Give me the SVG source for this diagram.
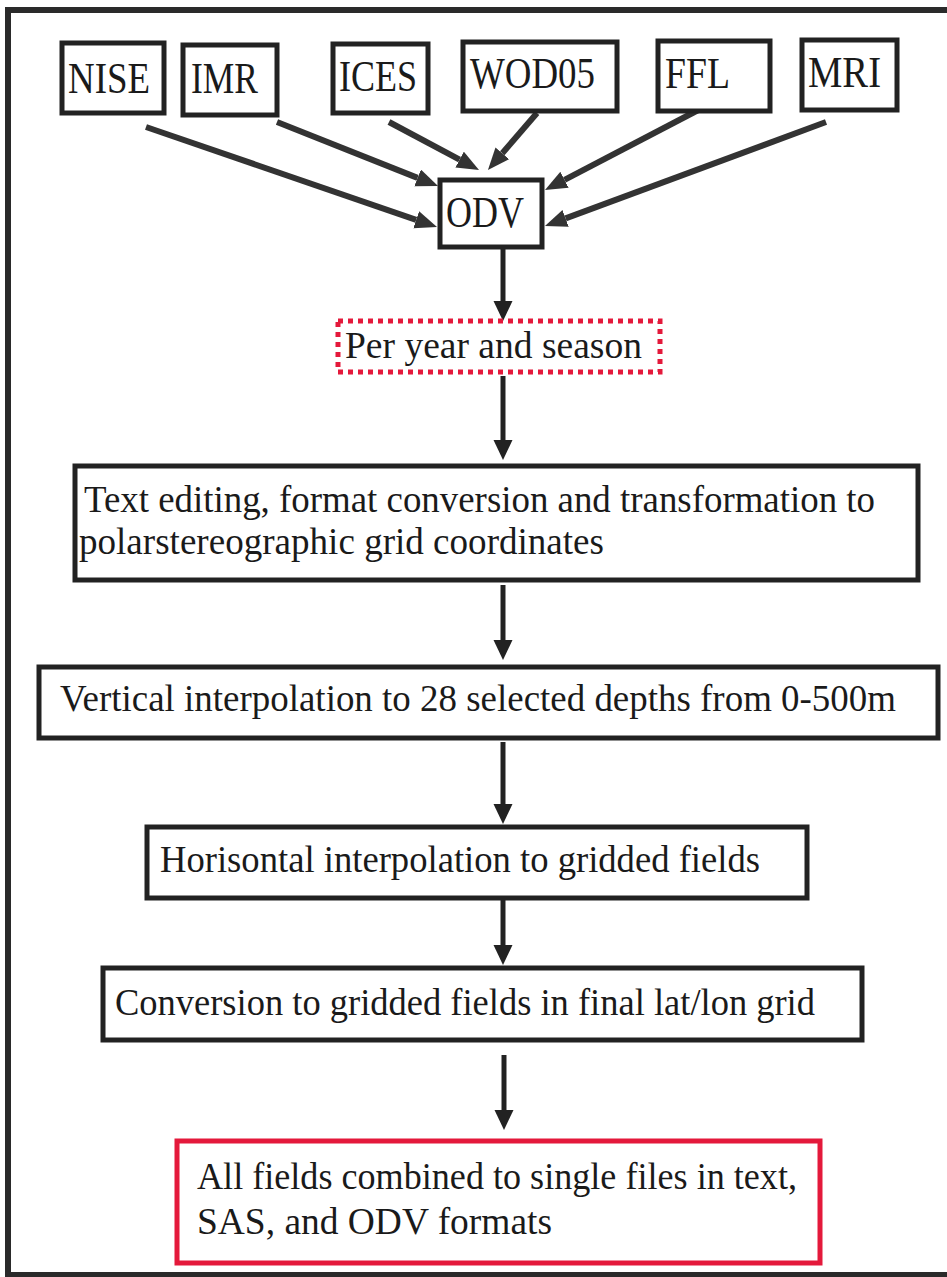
<svg xmlns="http://www.w3.org/2000/svg" width="947" height="1277" viewBox="0 0 947 1277">
<style>
text{font-family:"Liberation Serif","Times New Roman",serif;fill:#1a1a1a;}
.src{font-size:44px;}
.big{font-size:38px;}
.box{fill:#fff;stroke:#222;stroke-width:5;}
.red{fill:#fff;stroke:#e4193b;stroke-width:5;}
.dot{fill:#fff;stroke:#e4193b;stroke-width:5;stroke-dasharray:5 5;}
.diag{stroke:#333;stroke-width:6;fill:none;marker-end:url(#ah);}
.vert{stroke:#222;stroke-width:5;fill:none;marker-end:url(#av);}
</style>
<defs>
<marker id="ah" markerUnits="userSpaceOnUse" markerWidth="24" markerHeight="20" refX="0" refY="9" orient="auto"><path d="M0,0 L22,9 L0,18 z" fill="#333"/></marker>
<marker id="av" markerUnits="userSpaceOnUse" markerWidth="22" markerHeight="20" refX="0" refY="9.5" orient="auto"><path d="M0,0 L20,9.5 L0,19 z" fill="#222"/></marker>
</defs>
<rect width="947" height="1277" fill="#fff"/>
<path d="M947,10 H8 V1275 H947" fill="none" stroke="#2a2a2a" stroke-width="6"/>

<g id="connectors">
<line class="diag" x1="146" y1="127" x2="416.2" y2="219.8"/>
<line class="diag" x1="277" y1="122" x2="417.6" y2="177.9"/>
<line class="diag" x1="389" y1="122" x2="459.6" y2="159.6"/>
<line class="diag" x1="537" y1="113" x2="502.3" y2="153.3"/>
<line class="diag" x1="706" y1="106" x2="564.5" y2="179.8"/>
<line class="diag" x1="826" y1="122" x2="565.6" y2="218.4"/>
<line class="vert" x1="503" y1="249" x2="503" y2="301"/>
<line class="vert" x1="503" y1="376" x2="503" y2="440"/>
<line class="vert" x1="503" y1="585" x2="503" y2="640"/>
<line class="vert" x1="503" y1="742" x2="503" y2="804"/>
<line class="vert" x1="503" y1="900" x2="503" y2="945"/>
<line class="vert" x1="504" y1="1055" x2="504" y2="1110"/>
</g>

<g id="nise"><rect class="box" x="62" y="43" width="102" height="70"/><text class="src" x="68" y="93" textLength="82" lengthAdjust="spacingAndGlyphs">NISE</text></g>
<g id="imr"><rect class="box" x="183" y="45" width="94" height="70"/><text class="src" x="191" y="93" textLength="67" lengthAdjust="spacingAndGlyphs">IMR</text></g>
<g id="ices"><rect class="box" x="333" y="44" width="95" height="69"/><text class="src" x="339" y="91" textLength="78" lengthAdjust="spacingAndGlyphs">ICES</text></g>
<g id="wod05"><rect class="box" x="463" y="42" width="154" height="69"/><text class="src" x="470" y="88" textLength="125" lengthAdjust="spacingAndGlyphs">WOD05</text></g>
<g id="ffl"><rect class="box" x="658" y="41" width="112" height="70"/><text class="src" x="665" y="88" textLength="65" lengthAdjust="spacingAndGlyphs">FFL</text></g>
<g id="mri"><rect class="box" x="802" y="40" width="95" height="70"/><text class="src" x="808" y="87" textLength="73" lengthAdjust="spacingAndGlyphs">MRI</text></g>

<g id="odv"><rect class="box" x="440" y="180" width="102" height="67"/><text class="src" x="446" y="227" textLength="78" lengthAdjust="spacingAndGlyphs">ODV</text></g>

<g id="per-year"><rect class="dot" x="338" y="321" width="322" height="51"/><text class="big" x="345" y="358" textLength="297" lengthAdjust="spacingAndGlyphs">Per year and season</text></g>

<g id="text-editing"><rect class="box" x="75" y="466" width="843" height="114"/>
<text class="big" x="84" y="512" textLength="791" lengthAdjust="spacingAndGlyphs">Text editing, format conversion and transformation to</text>
<text class="big" x="79" y="554" textLength="525" lengthAdjust="spacingAndGlyphs">polarstereographic grid coordinates</text></g>

<g id="vertical"><rect class="box" x="39" y="667" width="899" height="71"/><text class="big" x="60" y="711" textLength="836" lengthAdjust="spacingAndGlyphs">Vertical interpolation to 28 selected depths from 0-500m</text></g>

<g id="horisontal"><rect class="box" x="147" y="827" width="660" height="71"/><text class="big" x="160" y="872" textLength="600" lengthAdjust="spacingAndGlyphs">Horisontal interpolation to gridded fields</text></g>

<g id="conversion"><rect class="box" x="103" y="968" width="759" height="72"/><text class="big" x="115" y="1015" textLength="700" lengthAdjust="spacingAndGlyphs">Conversion to gridded fields in final lat/lon grid</text></g>

<g id="final"><rect class="red" x="177" y="1141" width="643" height="122"/>
<text class="big" x="197" y="1189" textLength="600" lengthAdjust="spacingAndGlyphs">All fields combined to single files in text,</text>
<text class="big" x="197" y="1234" textLength="355" lengthAdjust="spacingAndGlyphs">SAS, and ODV formats</text></g>
</svg>
